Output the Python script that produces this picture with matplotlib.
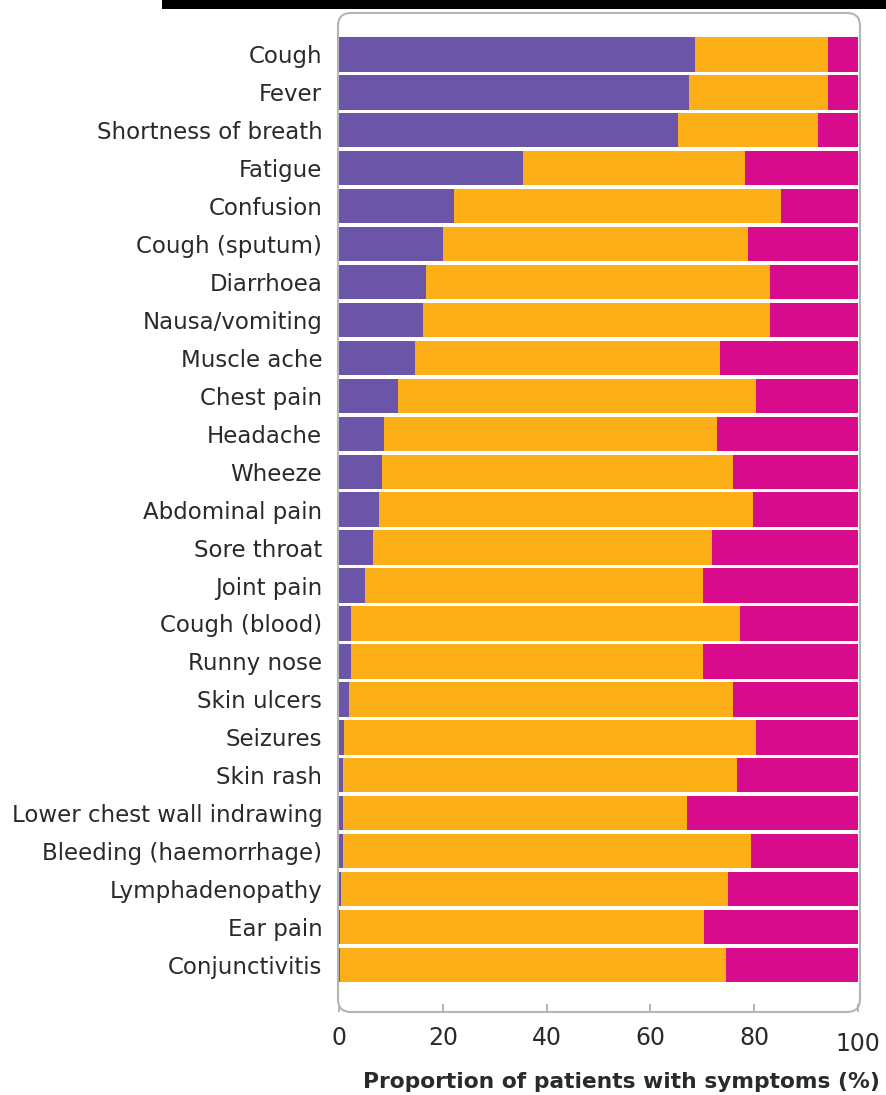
import matplotlib
matplotlib.use("Agg")
import matplotlib.pyplot as plt
from matplotlib.patches import FancyBboxPatch, Rectangle
from matplotlib.transforms import IdentityTransform, ScaledTranslation
import numpy as np

symptoms = ["Cough", "Fever", "Shortness of breath", "Fatigue", "Confusion",
            "Cough (sputum)", "Diarrhoea", "Nausa/vomiting", "Muscle ache",
            "Chest pain", "Headache", "Wheeze", "Abdominal pain", "Sore throat",
            "Joint pain", "Cough (blood)", "Runny nose", "Skin ulcers",
            "Seizures", "Skin rash", "Lower chest wall indrawing",
            "Bleeding (haemorrhage)", "Lymphadenopathy", "Ear pain",
            "Conjunctivitis"]
yes_pct = [68.6, 67.5, 65.3, 35.4, 22.2, 20.0, 16.8, 16.2, 14.6, 11.4, 8.7, 8.2,
           7.7, 6.5, 5.1, 2.4, 2.4, 1.9, 0.9, 0.8, 0.8, 0.8, 0.3, 0.2, 0.2]
no_pct = [25.6, 26.8, 26.9, 42.8, 63.0, 58.8, 66.3, 66.9, 58.9, 68.9, 64.1, 67.8,
          72.1, 65.3, 65.1, 74.8, 67.8, 74.1, 79.4, 75.8, 66.3, 78.5, 74.7, 70.1, 74.3]
unknown_pct = [5.8, 5.7, 7.8, 21.8, 14.8, 21.2, 16.9, 16.9, 26.5, 19.7, 27.2, 24.0,
               20.2, 28.2, 29.8, 22.8, 29.8, 24.0, 19.7, 23.4, 32.9, 20.7, 25.0, 29.7, 25.5]
xticks = [0, 20, 40, 60, 80, 100]
xtick_labels = ["0", "20", "40", "60", "80", "100"]
xlabel = "Proportion of patients with symptoms (%)"

C_YES = "#6A55A8"
C_NO = "#FDAF17"
C_UNK = "#D80B8C"
TXT = "#2a2a2a"

W, H = 887, 1095
fig = plt.figure(figsize=(W / 100, H / 100), dpi=100)
fig.patch.set_facecolor("white")

left_px, right_px, top_px, bot_px = 339, 858, 13, 1012
ax = fig.add_axes([left_px / W, 1 - bot_px / H, (right_px - left_px) / W,
                   (bot_px - top_px) / H])

y = np.arange(len(symptoms))
yes = np.array(yes_pct)
no = np.array(no_pct)
unk = np.array(unknown_pct)
h = 0.907
ax.barh(y, yes, height=h, color=C_YES, linewidth=0)
ax.barh(y, no, left=yes, height=h, color=C_NO, linewidth=0)
ax.barh(y, unk, left=yes + no, height=h, color=C_UNK, linewidth=0)

ax.set_xlim(0, 100)
ax.set_ylim(25.24, -1.09)
ax.set_yticks(y)
ax.set_yticklabels(symptoms, fontsize=16.5, color=TXT, family="DejaVu Sans")
ax.tick_params(axis="y", length=0, pad=12)
ax.set_xticks(xticks)
ax.set_xticklabels(xtick_labels, fontsize=17, color=TXT, family="DejaVu Sans")
ax.tick_params(axis="x", direction="in", length=6, width=1.1, color="#a0a0a0",
               pad=10)
for s in ax.spines.values():
    s.set_visible(False)
ax.set_facecolor("white")

# the "100" label sits slightly lower in the reference
lab = ax.get_xticklabels()[-1]
lab.set_transform(lab.get_transform() + ScaledTranslation(0, -6 / 100, fig.dpi_scale_trans))

# rounded frame (display coords = pixels)
frame = FancyBboxPatch((338, H - 1012), 522, 999,
                       boxstyle="round,pad=0,rounding_size=13",
                       transform=IdentityTransform(), facecolor="none",
                       edgecolor="#b5b5b5", linewidth=1.5, zorder=5)
fig.patches.append(frame)

# black bar at top
fig.patches.append(Rectangle((162 / W, 1 - 9 / H), (W - 162) / W, 9 / H,
                             transform=fig.transFigure, facecolor="black",
                             edgecolor="none"))

fig.text(621 / W, 1 - 1082 / H, xlabel, ha="center", va="center",
         fontsize=15.7, fontweight="bold", color=TXT, family="DejaVu Sans")

fig.savefig("out.png", dpi=100, facecolor="white")
